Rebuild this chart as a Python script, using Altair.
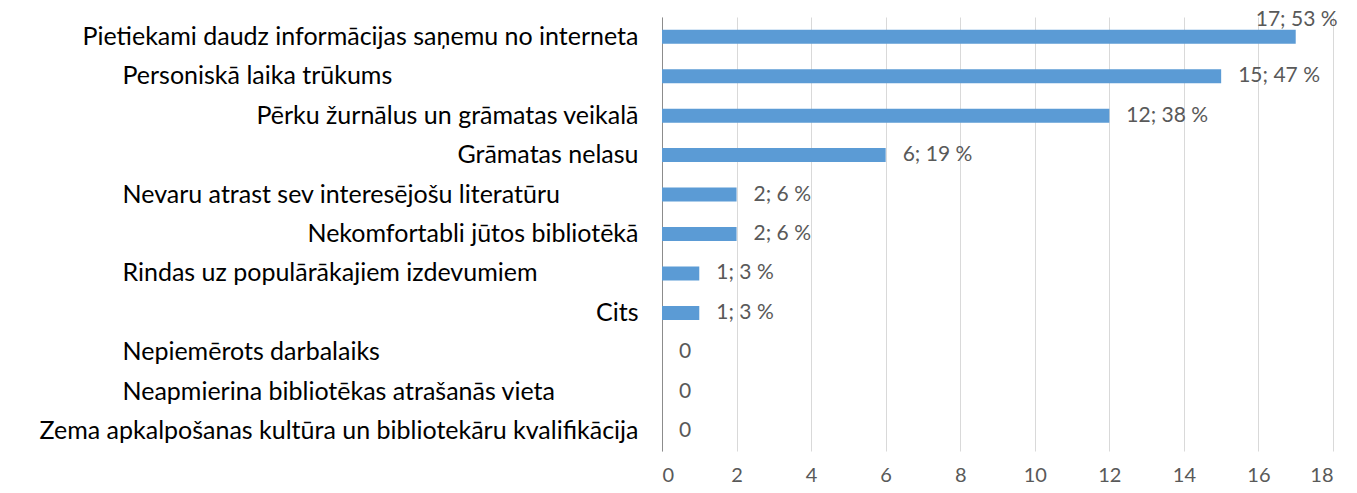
import altair as alt
import pandas as pd

categories = [
    "Pietiekami daudz informācijas saņemu no interneta",
    "Personiskā laika trūkums",
    "Pērku žurnālus un grāmatas veikalā",
    "Grāmatas nelasu",
    "Nevaru atrast sev interesējošu literatūru",
    "Nekomfortabli jūtos bibliotēkā",
    "Rindas uz populārākajiem izdevumiem",
    "Cits",
    "Nepiemērots darbalaiks",
    "Neapmierina bibliotēkas atrašanās vieta",
    "Zema apkalpošanas kultūra un bibliotekāru kvalifikācija",
]
counts = [17, 15, 12, 6, 2, 2, 1, 1, 0, 0, 0]
percents = [53, 47, 38, 19, 6, 6, 3, 3, 0, 0, 0]
x_ticks = [0, 2, 4, 6, 8, 10, 12, 14, 16, 18]

# labels that the original shows left-aligned
left_labels = [
    "Personiskā laika trūkums",
    "Nevaru atrast sev interesējošu literatūru",
    "Rindas uz populārākajiem izdevumiem",
    "Nepiemērots darbalaiks",
    "Neapmierina bibliotēkas atrašanās vieta",
]

df = pd.DataFrame({"cat": categories, "v": counts, "p": percents})

FONT = "Lato"
left_list = "[" + ",".join("'" + s + "'" for s in left_labels) + "]"
test = f"indexof({left_list}, datum.value) >= 0"

y_enc = alt.Y(
    "cat:N",
    sort=categories,
    title=None,
    scale=alt.Scale(paddingInner=0.645, paddingOuter=0.3225),
    axis=alt.Axis(
        ticks=False,
        tickSize=0,
        domain=True,
        domainColor="#8c8c8c",
        domainWidth=1,
        labelLimit=800,
        labelFont=FONT,
        labelFontSize=25,
        labelColor="#000000",
        labelAlign={"condition": {"test": test, "value": "left"}, "value": "right"},
        labelPadding={"condition": {"test": test, "value": 540}, "value": 24},
    ),
)

x_enc = alt.X(
    "v:Q",
    title=None,
    scale=alt.Scale(domain=[0, 18], nice=False),
    axis=alt.Axis(
        values=x_ticks,
        ticks=False,
        tickSize=0,
        domain=False,
        grid=True,
        gridColor="#d9d9d9",
        gridWidth=1,
        labelFont=FONT,
        labelFontSize=20,
        labelColor="#595959",
        labelPadding=14,
    ),
)

base = alt.Chart(df).transform_calculate(
    lbl="datum.v == 0 ? '0' : datum.v + '; ' + datum.p + ' %'"
).transform_joinaggregate(maxv="max(v)")

bars = base.mark_bar(color="#5b9bd5").encode(x=x_enc, y=y_enc)

labels = base.transform_filter("datum.v < datum.maxv").mark_text(
    align="left", baseline="middle", dx=17, font=FONT, fontSize=21, color="#595959"
).encode(x="v:Q", y=alt.Y("cat:N", sort=categories), text="lbl:N")

top_label = base.transform_filter("datum.v == datum.maxv").mark_text(
    align="left", baseline="middle", dx=-40, dy=-17, font=FONT, fontSize=21, color="#595959"
).encode(x="v:Q", y=alt.Y("cat:N", sort=categories), text="lbl:N")

chart = (
    alt.layer(bars, labels, top_label)
    .properties(
        width=671,
        height=434,
        autosize=alt.AutoSizeParams(type="none"),
        padding={"left": 654, "top": 9, "right": 15, "bottom": 34},
        background="white",
    )
    .configure_view(stroke=None)
)

chart.save("out.html", embed_options={"renderer": "svg", "actions": False})
